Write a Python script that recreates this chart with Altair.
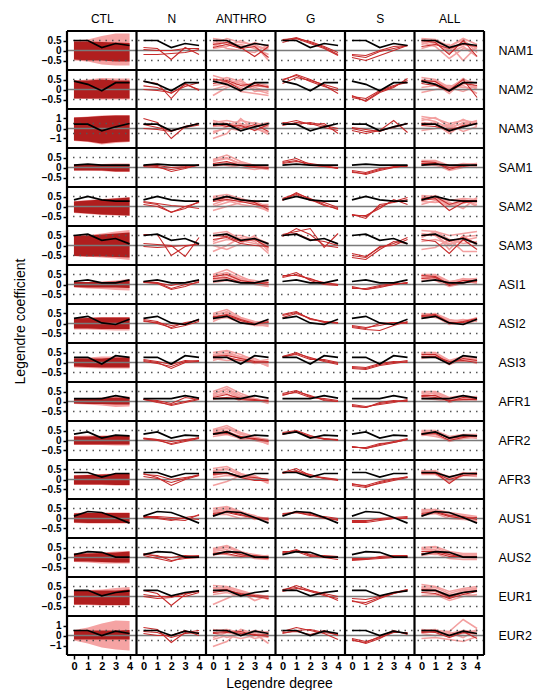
import json
import altair as alt
import pandas as pd

REGIONS = ["NAM1", "NAM2", "NAM3", "SAM1", "SAM2", "SAM3", "ASI1", "ASI2", "ASI3",
           "AFR1", "AFR2", "AFR3", "AUS1", "AUS2", "EUR1", "EUR2"]
EXPS = ["CTL", "N", "ANTHRO", "G", "S", "ALL"]
DEGREES = [0, 1, 2, 3, 4]
WIDE_ROWS = ["NAM3", "EUR2"]          # rows drawn with a +-2 axis instead of +-1

# observed Legendre coefficients (black line, repeated in every column)
OBS = {
    "NAM1": [0.5, 0.5, 0.15, 0.35, 0.25],
    "NAM2": [0.42, 0.26, -0.06, 0.34, 0.34],
    "NAM3": [0.43, 0.43, -0.23, 0.17, 0.5],
    "SAM1": [0.12, 0.17, 0.12, 0.12, 0.12],
    "SAM2": [0.33, 0.5, 0.33, 0.27, 0.27],
    "SAM3": [0.5, 0.57, 0.26, 0.35, 0.08],
    "ASI1": [0.15, 0.23, 0.08, 0.08, 0.23],
    "ASI2": [0.26, 0.36, 0.03, -0.05, 0.21],
    "ASI3": [0.26, 0.26, -0.08, 0.34, 0.26],
    "AFR1": [0.14, 0.14, 0.14, 0.29, 0.17],
    "AFR2": [0.32, 0.43, 0.12, 0.27, 0.23],
    "AFR3": [0.35, 0.35, 0.12, 0.3, 0.3],
    "AUS1": [0.12, 0.35, 0.3, 0.05, -0.23],
    "AUS2": [0.14, 0.29, 0.26, 0.02, 0.02],
    "EUR1": [0.31, 0.31, 0.03, 0.2, 0.28],
    "EUR2": [0.5, 0.5, 0.0, 0.43, 0.2],
}

# control run spread: inner (dark) and outer (light) bands
CTL_IN_HI = {
    "NAM1": [0.45, 0.45, 0.42, 0.4, 0.38], "NAM2": [0.45, 0.45, 0.5, 0.45, 0.45],
    "NAM3": [1.1, 1.15, 1.25, 1.3, 1.3], "SAM1": [0.15, 0.15, 0.15, 0.15, 0.15],
    "SAM2": [0.25, 0.3, 0.35, 0.4, 0.45], "SAM3": [0.5, 0.5, 0.55, 0.6, 0.65],
    "ASI1": [0.12, 0.12, 0.12, 0.15, 0.2], "ASI2": [0.25, 0.28, 0.3, 0.3, 0.3],
    "ASI3": [0.2, 0.2, 0.2, 0.25, 0.25], "AFR1": [0.12, 0.12, 0.15, 0.2, 0.18],
    "AFR2": [0.2, 0.2, 0.22, 0.22, 0.22], "AFR3": [0.2, 0.22, 0.25, 0.28, 0.28],
    "AUS1": [0.25, 0.28, 0.28, 0.28, 0.28], "AUS2": [0.2, 0.2, 0.22, 0.25, 0.3],
    "EUR1": [0.3, 0.3, 0.3, 0.3, 0.35], "EUR2": [0.5, 0.5, 0.5, 0.5, 0.55],
}
CTL_IN_LO = {
    "NAM1": [-0.45, -0.5, -0.5, -0.55, -0.55], "NAM2": [-0.45, -0.45, -0.45, -0.45, -0.45],
    "NAM3": [-1.2, -1.3, -1.5, -1.35, -1.3], "SAM1": [-0.15, -0.15, -0.15, -0.2, -0.2],
    "SAM2": [-0.3, -0.35, -0.4, -0.42, -0.45], "SAM3": [-0.53, -0.55, -0.55, -0.58, -0.6],
    "ASI1": [-0.12, -0.15, -0.15, -0.15, -0.18], "ASI2": [-0.25, -0.25, -0.27, -0.27, -0.27],
    "ASI3": [-0.2, -0.22, -0.25, -0.25, -0.25], "AFR1": [-0.1, -0.12, -0.12, -0.15, -0.15],
    "AFR2": [-0.2, -0.2, -0.2, -0.2, -0.2], "AFR3": [-0.25, -0.25, -0.25, -0.27, -0.27],
    "AUS1": [-0.2, -0.22, -0.22, -0.22, -0.22], "AUS2": [-0.2, -0.2, -0.22, -0.25, -0.25],
    "EUR1": [-0.4, -0.4, -0.42, -0.42, -0.42], "EUR2": [-0.4, -0.4, -0.4, -0.4, -0.4],
}
CTL_OUT_HI = {
    "NAM1": [0.5, 0.55, 0.72, 0.85, 0.85], "NAM2": [0.45, 0.5, 0.58, 0.55, 0.55],
    "NAM3": [1.1, 1.2, 1.3, 1.35, 1.35], "SAM1": [0.15, 0.15, 0.18, 0.2, 0.2],
    "SAM2": [0.28, 0.32, 0.38, 0.42, 0.48], "SAM3": [0.5, 0.52, 0.6, 0.7, 0.78],
    "ASI1": [0.12, 0.13, 0.15, 0.2, 0.28], "ASI2": [0.27, 0.3, 0.32, 0.33, 0.33],
    "ASI3": [0.22, 0.25, 0.3, 0.3, 0.3], "AFR1": [0.13, 0.15, 0.2, 0.25, 0.25],
    "AFR2": [0.22, 0.25, 0.25, 0.28, 0.28], "AFR3": [0.22, 0.24, 0.28, 0.3, 0.3],
    "AUS1": [0.27, 0.3, 0.3, 0.3, 0.3], "AUS2": [0.2, 0.22, 0.25, 0.3, 0.32],
    "EUR1": [0.3, 0.32, 0.35, 0.42, 0.47], "EUR2": [0.55, 0.8, 1.2, 1.5, 1.45],
}
CTL_OUT_LO = {
    "NAM1": [-0.5, -0.55, -0.7, -0.75, -0.75], "NAM2": [-0.45, -0.48, -0.5, -0.5, -0.5],
    "NAM3": [-1.25, -1.35, -1.6, -1.45, -1.35], "SAM1": [-0.15, -0.15, -0.18, -0.22, -0.22],
    "SAM2": [-0.32, -0.37, -0.42, -0.45, -0.48], "SAM3": [-0.53, -0.56, -0.6, -0.65, -0.72],
    "ASI1": [-0.15, -0.2, -0.22, -0.28, -0.3], "ASI2": [-0.3, -0.3, -0.33, -0.35, -0.35],
    "ASI3": [-0.25, -0.27, -0.3, -0.3, -0.3], "AFR1": [-0.13, -0.15, -0.2, -0.28, -0.25],
    "AFR2": [-0.22, -0.22, -0.23, -0.25, -0.25], "AFR3": [-0.27, -0.28, -0.28, -0.3, -0.3],
    "AUS1": [-0.22, -0.25, -0.25, -0.25, -0.25], "AUS2": [-0.22, -0.25, -0.3, -0.3, -0.3],
    "EUR1": [-0.42, -0.42, -0.45, -0.45, -0.45], "EUR2": [-0.5, -0.8, -1.2, -1.4, -1.5],
}

N_RUNS = {
    "NAM1": [[0.15, 0.1, -0.45, 0.15, -0.2], [-0.2, -0.2, -0.15, -0.1, 0.05], [0.05, 0.0, 0.0, 0.1, 0.1]],
    "NAM2": [[0.4, 0.3, -0.45, 0.3, -0.05], [0.18, 0.1, -0.2, 0.25, 0.0], [0.0, -0.05, -0.15, 0.15, 0.35]],
    "NAM3": [[1.0, 0.6, -1.0, 0.2, 0.5], [0.4, 0.1, -0.2, 0.1, 0.35], [0.0, -0.1, -0.3, 0.2, 0.5]],
    "SAM1": [[0.1, 0.05, -0.2, -0.05, 0.15], [0.05, 0.0, -0.1, 0.0, 0.1], [0.1, 0.1, 0.0, 0.05, 0.12]],
    "SAM2": [[0.2, 0.1, -0.3, 0.0, 0.2], [0.1, 0.0, -0.28, -0.1, 0.25], [0.25, 0.15, 0.05, 0.0, -0.1]],
    "SAM3": [[0.55, 0.55, -0.5, -0.05, 0.1], [0.1, 0.05, 0.0, -0.55, 0.4], [-0.05, -0.1, -0.05, 0.0, 0.05]],
    "ASI1": [[0.15, 0.1, -0.2, 0.0, 0.1], [0.1, 0.05, -0.25, -0.1, 0.15], [0.12, 0.08, -0.05, 0.1, 0.2]],
    "ASI2": [[0.2, 0.1, -0.25, -0.1, 0.1], [0.15, 0.0, -0.2, 0.05, 0.15], [0.1, 0.05, -0.1, 0.0, 0.2]],
    "ASI3": [[0.1, 0.0, -0.3, 0.0, 0.05], [0.05, -0.05, -0.2, 0.05, 0.1], [0.15, 0.05, -0.1, 0.1, 0.05]],
    "AFR1": [[0.1, 0.0, -0.2, -0.05, 0.1], [0.12, -0.05, -0.15, 0.0, 0.15], [0.1, 0.05, -0.1, 0.2, 0.1]],
    "AFR2": [[0.1, 0.05, -0.2, -0.05, 0.1], [0.08, 0.0, -0.15, 0.0, 0.15], [0.12, 0.05, -0.05, 0.05, 0.12]],
    "AFR3": [[0.3, 0.1, -0.3, 0.0, 0.2], [0.15, 0.05, -0.15, 0.05, 0.25], [0.25, 0.2, 0.0, 0.1, 0.2]],
    "AUS1": [[0.1, 0.0, -0.1, 0.05, 0.15], [0.05, 0.05, -0.05, -0.1, 0.2], [0.1, 0.1, 0.05, 0.0, -0.05]],
    "AUS2": [[0.15, 0.1, -0.15, -0.05, 0.0], [0.1, -0.05, -0.2, 0.05, 0.1], [0.2, 0.05, 0.0, 0.1, 0.05]],
    "EUR1": [[0.3, 0.15, -0.45, 0.1, 0.3], [0.0, -0.1, -0.05, 0.15, 0.25], [0.1, 0.0, 0.0, 0.0, 0.2]],
    "EUR2": [[0.8, 0.6, -0.7, 0.3, 0.5], [0.2, 0.0, 0.0, 0.5, 0.0], [0.4, 0.3, -0.2, 0.2, 0.3]],
}

G_RUNS = {
    "NAM1": [[0.5, 0.65, 0.4, 0.15, -0.2], [0.4, 0.6, 0.45, 0.2, -0.1], [0.55, 0.6, 0.35, 0.1, -0.25]],
    "NAM2": [[0.45, 0.75, 0.5, 0.2, -0.2], [0.5, 0.7, 0.4, 0.15, -0.05], [0.3, 0.6, 0.45, 0.25, 0.05]],
    "NAM3": [[0.5, 0.8, 0.4, 0.5, -0.5], [0.3, 0.6, 0.5, 0.1, -0.2], [0.6, 0.4, 0.6, 0.3, 0.0]],
    "SAM1": [[0.3, 0.45, 0.15, 0.05, -0.05], [0.25, 0.35, 0.1, 0.05, 0.0], [0.2, 0.3, 0.2, 0.1, -0.05]],
    "SAM2": [[0.3, 0.7, 0.35, 0.05, -0.1], [0.4, 0.65, 0.4, 0.1, -0.15], [0.35, 0.6, 0.3, 0.2, -0.05]],
    "SAM3": [[0.45, 0.85, 0.55, 0.0, -0.1], [0.55, 0.7, 0.85, -0.1, 0.6], [0.5, 0.6, 0.3, 0.2, 0.0]],
    "ASI1": [[0.4, 0.6, 0.2, 0.0, -0.05], [0.35, 0.5, 0.25, 0.1, 0.0], [0.45, 0.45, 0.3, 0.05, 0.0]],
    "ASI2": [[0.4, 0.55, 0.25, 0.05, 0.05], [0.45, 0.6, 0.2, 0.1, 0.0], [0.3, 0.5, 0.25, 0.1, 0.05]],
    "ASI3": [[0.3, 0.5, 0.2, 0.1, -0.05], [0.25, 0.45, 0.25, 0.05, -0.1], [0.3, 0.4, 0.15, 0.15, 0.0]],
    "AFR1": [[0.4, 0.55, 0.25, 0.1, 0.0], [0.35, 0.45, 0.2, 0.15, 0.05], [0.3, 0.5, 0.3, 0.05, 0.0]],
    "AFR2": [[0.35, 0.45, 0.2, 0.1, 0.0], [0.4, 0.5, 0.25, 0.05, 0.05], [0.3, 0.45, 0.15, 0.1, 0.05]],
    "AFR3": [[0.35, 0.55, 0.2, 0.05, -0.05], [0.3, 0.45, 0.15, 0.1, 0.0], [0.35, 0.4, 0.25, 0.05, 0.0]],
    "AUS1": [[0.2, 0.35, 0.25, 0.05, -0.1], [0.25, 0.3, 0.2, 0.0, -0.05], [0.15, 0.3, 0.15, 0.1, 0.0]],
    "AUS2": [[0.2, 0.4, 0.1, 0.0, -0.1], [0.25, 0.35, 0.15, 0.05, 0.0], [0.3, 0.3, 0.05, 0.1, 0.05]],
    "EUR1": [[0.3, 0.55, 0.3, 0.1, -0.2], [0.35, 0.45, 0.25, 0.05, -0.1], [0.25, 0.4, 0.3, 0.15, 0.0]],
    "EUR2": [[0.4, 0.8, 0.5, 0.2, -0.4], [0.2, 0.5, 0.6, 0.3, 0.1], [0.3, 0.4, 0.1, 0.5, 0.0]],
}

S_RUNS = {
    "NAM1": [[-0.25, -0.35, -0.05, 0.1, 0.25], [-0.35, -0.5, -0.25, 0.0, 0.25], [-0.2, -0.25, 0.0, 0.2, 0.25]],
    "NAM2": [[-0.3, -0.6, -0.15, 0.1, 0.55], [-0.4, -0.55, -0.1, 0.15, 0.45], [-0.35, -0.45, -0.05, 0.2, 0.35]],
    "NAM3": [[0.0, -0.3, -0.2, 0.8, -0.4], [0.1, -0.1, -0.3, 0.2, 0.5], [-0.2, -0.5, -0.2, 0.1, 0.5]],
    "SAM1": [[-0.2, -0.35, -0.15, 0.0, 0.1], [-0.25, -0.3, -0.1, 0.05, 0.05], [-0.15, -0.25, -0.05, 0.0, 0.1]],
    "SAM2": [[-0.4, -0.5, 0.0, 0.25, 0.45], [-0.45, -0.45, -0.1, 0.35, 0.1], [-0.4, -0.6, 0.1, 0.2, 0.35]],
    "SAM3": [[-0.4, -0.55, -0.1, 0.1, 0.4], [-0.6, -0.7, -0.2, 0.2, 0.1], [-0.5, -0.6, -0.05, 0.0, 0.3]],
    "ASI1": [[-0.15, -0.25, -0.1, 0.0, 0.1], [-0.2, -0.2, -0.05, 0.05, 0.05], [-0.1, -0.25, -0.15, 0.0, 0.1]],
    "ASI2": [[-0.15, -0.25, 0.0, 0.05, 0.05], [-0.2, -0.3, -0.35, -0.1, 0.1], [-0.1, -0.2, -0.1, 0.05, 0.0]],
    "ASI3": [[-0.25, -0.3, -0.1, 0.0, 0.1], [-0.3, -0.35, -0.15, -0.05, 0.05], [-0.2, -0.25, -0.05, 0.05, 0.0]],
    "AFR1": [[-0.2, -0.3, -0.1, 0.0, 0.05], [-0.15, -0.25, -0.15, -0.05, 0.1], [-0.25, -0.3, -0.05, 0.05, 0.0]],
    "AFR2": [[-0.3, -0.4, -0.2, -0.05, 0.1], [-0.35, -0.35, -0.15, -0.1, 0.05], [-0.3, -0.4, -0.25, -0.1, 0.05]],
    "AFR3": [[-0.3, -0.4, -0.15, 0.0, 0.15], [-0.2, -0.35, -0.2, -0.05, 0.1], [-0.25, -0.3, -0.1, 0.05, 0.1]],
    "AUS1": [[-0.2, -0.2, -0.1, 0.0, 0.05], [-0.15, -0.15, 0.0, 0.05, 0.1], [-0.1, -0.1, -0.05, 0.0, 0.0]],
    "AUS2": [[-0.05, -0.05, 0.0, 0.05, 0.0], [-0.1, -0.1, -0.05, 0.0, 0.05], [-0.15, -0.1, 0.05, 0.1, 0.1]],
    "EUR1": [[-0.2, -0.4, -0.1, 0.15, 0.35], [-0.25, -0.3, -0.05, 0.15, 0.3], [-0.1, -0.15, 0.0, 0.2, 0.35]],
    "EUR2": [[-0.4, -0.8, -0.3, 0.4, 0.2], [-0.3, -0.6, -0.2, 0.3, 0.3], [-0.5, -0.7, -0.1, 0.5, 0.1]],
}

ANTHRO_RED = {
    "NAM1": [[0.3, 0.4, 0.15, -0.3, 0.2], [0.15, 0.3, 0.1, 0.2, -0.35]],
    "NAM2": [[0.5, 0.45, 0.2, 0.3, 0.1], [0.3, 0.4, 0.0, 0.2, 0.15]],
    "NAM3": [[0.3, 0.5, 0.0, 0.4, -0.3], [0.5, 0.2, 0.3, -0.2, 0.4]],
    "SAM1": [[0.2, 0.3, 0.1, 0.05, 0.0], [0.1, 0.15, 0.1, 0.0, -0.05]],
    "SAM2": [[0.3, 0.45, 0.35, 0.2, -0.15], [0.25, 0.35, 0.25, 0.1, 0.0]],
    "SAM3": [[0.5, 0.45, 0.2, 0.3, -0.1], [0.3, 0.4, 0.1, 0.0, -0.05]],
    "ASI1": [[0.4, 0.5, 0.2, 0.1, 0.0], [0.3, 0.35, 0.1, 0.05, 0.1]],
    "ASI2": [[0.3, 0.45, 0.2, 0.0, 0.05], [0.35, 0.4, 0.15, -0.05, 0.1]],
    "ASI3": [[0.3, 0.35, 0.2, 0.05, 0.0], [0.25, 0.25, 0.1, 0.0, 0.05]],
    "AFR1": [[0.2, 0.35, 0.15, 0.1, 0.0], [0.15, 0.2, 0.1, 0.05, 0.05]],
    "AFR2": [[0.35, 0.45, 0.15, 0.1, 0.0], [0.3, 0.35, 0.2, 0.05, -0.05]],
    "AFR3": [[0.3, 0.35, 0.15, 0.1, 0.0], [0.25, 0.3, 0.1, -0.05, -0.05]],
    "AUS1": [[0.25, 0.35, 0.2, 0.0, -0.05], [0.2, 0.3, 0.15, 0.05, 0.0]],
    "AUS2": [[0.2, 0.3, 0.15, 0.0, -0.05], [0.15, 0.2, 0.05, 0.1, 0.0]],
    "EUR1": [[0.3, 0.35, 0.1, 0.0, -0.1], [0.2, 0.3, 0.15, 0.05, 0.0]],
    "EUR2": [[0.3, 0.4, 0.2, 0.1, -0.1], [0.2, 0.3, 0.4, 0.0, 0.1]],
}
ANTHRO_PINK = {
    "NAM1": [[0.6, 0.5, 0.2, 0.3, 0.0], [0.3, 0.6, 0.4, 0.3, -0.5], [0.1, 0.2, 0.5, 0.2, 0.1],
             [0.4, 0.1, 0.0, -0.1, 0.3], [0.5, 0.3, 0.3, 0.1, -0.2], [0.2, 0.45, 0.1, 0.4, 0.2]],
    "NAM2": [[0.7, 0.5, 0.3, 0.2, 0.1], [0.4, 0.6, 0.4, 0.1, -0.1], [-0.3, 0.1, 0.3, 0.0, -0.2],
             [0.2, 0.3, -0.1, -0.2, -0.3], [0.55, 0.35, 0.1, 0.35, 0.2], [0.0, 0.2, 0.5, -0.1, 0.0]],
    "NAM3": [[-1.0, -0.5, 1.0, -0.2, 0.3], [0.6, 0.8, 0.5, 0.0, -0.4], [0.2, 0.3, 0.8, 0.5, 0.0],
             [-0.3, 0.0, -0.2, 0.3, 0.6], [0.8, 0.5, 0.2, 0.6, 0.2], [-0.5, 0.2, 0.4, 0.1, -0.6]],
    "SAM1": [[0.4, 0.62, 0.3, 0.1, 0.0], [0.3, 0.45, 0.2, 0.05, -0.1], [0.05, 0.2, 0.25, 0.1, -0.05],
             [0.2, 0.1, 0.0, -0.1, 0.0], [0.35, 0.5, 0.15, 0.0, -0.1], [0.15, 0.25, 0.15, 0.05, 0.05]],
    "SAM2": [[0.5, 0.6, 0.4, 0.2, 0.0], [-0.2, 0.0, 0.2, 0.3, -0.1], [0.4, 0.3, 0.1, 0.0, -0.2],
             [0.0, 0.2, 0.4, 0.1, 0.1], [0.45, 0.5, 0.3, 0.15, -0.25], [0.1, 0.35, 0.25, 0.2, -0.05]],
    "SAM3": [[0.6, 0.7, 0.3, 0.4, 0.1], [-0.3, 0.0, 0.4, 0.2, -0.4], [0.2, 0.5, 0.5, 0.3, 0.0],
             [0.0, -0.2, 0.1, 0.5, -0.3], [0.45, 0.6, 0.2, 0.35, -0.2], [0.1, 0.3, 0.25, 0.1, 0.05]],
    "ASI1": [[0.5, 0.75, 0.4, 0.1, -0.1], [0.2, 0.3, 0.15, 0.0, -0.1], [0.45, 0.6, 0.3, 0.2, 0.05],
             [0.1, 0.2, 0.1, 0.05, 0.15], [0.35, 0.55, 0.25, 0.1, -0.05], [0.25, 0.45, 0.2, 0.1, 0.0]],
    "ASI2": [[0.5, 0.7, 0.3, 0.1, 0.0], [0.2, 0.3, 0.05, -0.1, -0.1], [0.45, 0.55, 0.25, 0.05, 0.15],
             [0.1, 0.4, 0.1, 0.0, -0.15], [0.4, 0.6, 0.2, 0.05, 0.05], [0.3, 0.5, 0.2, 0.0, -0.05]],
    "ASI3": [[0.5, 0.6, 0.4, 0.1, -0.2], [0.1, 0.3, 0.0, 0.05, 0.15], [0.35, 0.45, 0.3, 0.2, -0.1],
             [0.2, 0.1, 0.15, -0.05, 0.0], [0.4, 0.55, 0.25, 0.05, -0.15], [0.3, 0.4, 0.2, 0.1, 0.0]],
    "AFR1": [[0.5, 0.75, 0.4, 0.15, 0.0], [0.35, 0.6, 0.2, 0.1, -0.1], [0.1, 0.2, 0.25, 0.15, -0.05],
             [0.3, 0.4, 0.0, 0.05, 0.1], [0.4, 0.65, 0.3, 0.1, -0.05], [0.25, 0.5, 0.15, 0.1, 0.0]],
    "AFR2": [[0.55, 0.75, 0.4, 0.2, -0.1], [0.2, 0.3, 0.1, 0.1, -0.2], [0.45, 0.6, 0.3, 0.15, 0.05],
             [0.4, 0.5, 0.05, 0.0, -0.15], [0.5, 0.65, 0.35, 0.1, -0.05], [0.3, 0.45, 0.2, 0.05, -0.1]],
    "AFR3": [[0.55, 0.65, 0.3, 0.1, -0.2], [-0.3, -0.1, 0.2, 0.1, 0.0], [0.4, 0.5, 0.25, 0.05, -0.1],
             [0.1, 0.2, 0.15, 0.2, -0.15], [0.45, 0.55, 0.2, 0.15, -0.1], [0.2, 0.35, 0.1, 0.0, -0.05]],
    "AUS1": [[0.5, 0.6, 0.35, 0.1, -0.1], [0.1, 0.4, 0.25, -0.05, 0.05], [0.35, 0.5, 0.3, 0.15, -0.15],
             [0.2, 0.2, 0.0, 0.1, 0.0], [0.4, 0.55, 0.3, 0.05, -0.1], [0.3, 0.45, 0.2, 0.1, -0.05]],
    "AUS2": [[0.45, 0.6, 0.3, 0.1, 0.0], [0.1, 0.3, 0.2, -0.05, -0.1], [0.35, 0.5, 0.25, 0.15, 0.05],
             [0.25, 0.15, 0.0, 0.05, 0.1], [0.4, 0.55, 0.25, 0.05, -0.05], [0.3, 0.4, 0.1, 0.1, 0.0]],
    "EUR1": [[0.55, 0.5, 0.3, 0.1, -0.1], [-0.4, -0.1, 0.2, 0.0, -0.05], [0.4, 0.45, 0.2, -0.2, 0.05],
             [0.1, 0.2, 0.0, 0.1, -0.15], [0.45, 0.4, 0.25, 0.05, -0.05], [0.25, 0.35, 0.1, 0.1, 0.0]],
    "EUR2": [[-1.1, -0.6, 0.6, 0.2, -0.8], [0.5, 0.6, 0.3, -0.3, 0.0], [0.3, -0.2, 0.1, 0.5, 0.3],
             [-0.4, 0.0, -0.3, 0.0, 0.4], [0.6, 0.4, 0.5, 0.1, -0.2], [-0.2, 0.3, 0.0, 0.3, 0.0]],
}

ALL_RED = {
    "NAM1": [[0.5, 0.4, -0.2, 0.5, -0.3], [0.2, 0.3, 0.1, 0.3, 0.2]],
    "NAM2": [[0.45, 0.4, -0.05, 0.5, -0.4], [0.3, 0.2, -0.1, 0.3, 0.2]],
    "NAM3": [[0.5, 0.4, -0.3, 0.3, 0.5], [0.3, 0.2, -0.1, 0.2, 0.5]],
    "SAM1": [[0.3, 0.25, -0.1, 0.1, 0.1], [0.2, 0.2, 0.0, 0.05, 0.15]],
    "SAM2": [[0.4, 0.5, 0.1, 0.3, 0.3], [0.3, 0.4, -0.2, 0.2, 0.25]],
    "SAM3": [[0.5, 0.55, 0.2, 0.4, 0.1], [0.3, 0.2, -0.4, 0.3, -0.2]],
    "ASI1": [[0.45, 0.4, 0.0, 0.2, 0.2], [0.3, 0.35, -0.05, 0.1, 0.15]],
    "ASI2": [[0.4, 0.45, 0.05, 0.05, 0.2], [0.35, 0.4, 0.0, 0.1, 0.25]],
    "ASI3": [[0.4, 0.4, -0.05, 0.2, 0.1], [0.3, 0.3, 0.05, 0.1, 0.0]],
    "AFR1": [[0.3, 0.3, 0.0, 0.2, 0.15], [0.25, 0.2, 0.05, 0.1, 0.1]],
    "AFR2": [[0.35, 0.4, 0.1, 0.2, 0.2], [0.3, 0.35, 0.0, 0.15, 0.25]],
    "AFR3": [[0.35, 0.35, -0.2, 0.3, 0.3], [0.3, 0.3, 0.0, 0.2, 0.25]],
    "AUS1": [[0.25, 0.35, 0.15, 0.1, -0.05], [0.2, 0.3, 0.1, 0.0, 0.05]],
    "AUS2": [[0.3, 0.3, 0.15, 0.0, 0.0], [0.2, 0.25, 0.05, 0.05, 0.05]],
    "EUR1": [[0.35, 0.3, -0.05, 0.2, 0.3], [0.2, 0.15, -0.1, 0.1, 0.25]],
    "EUR2": [[0.4, 0.3, -0.2, 0.3, 0.2], [0.3, 0.4, 0.0, 0.4, -0.3]],
}
ALL_PINK = {
    "NAM1": [[0.6, 0.55, 0.2, 0.6, 0.3], [0.4, 0.2, -0.4, 0.1, 0.0], [0.1, 0.3, 0.3, -0.5, 0.2],
             [0.3, 0.5, -0.1, 0.2, -0.3], [0.55, 0.45, 0.0, 0.45, 0.1], [0.45, 0.35, 0.2, 0.55, -0.1]],
    "NAM2": [[0.6, 0.5, 0.1, 0.5, 0.3], [0.1, 0.2, 0.2, 0.1, 0.1], [0.4, 0.3, -0.2, 0.4, 0.0],
             [-0.15, 0.0, 0.1, -0.1, 0.2], [0.5, 0.4, 0.0, 0.55, 0.1], [0.35, 0.45, 0.05, 0.2, -0.2]],
    "NAM3": [[1.2, 1.0, 0.5, 0.8, 0.6], [0.8, 1.1, 0.2, 0.9, 0.3], [-0.2, 0.0, 0.4, -0.3, 0.2],
             [0.6, 0.5, -0.5, 0.4, 0.8], [1.0, 0.7, 0.0, 0.6, 0.5], [0.3, 0.6, 0.1, 0.5, 0.7]],
    "SAM1": [[0.35, 0.35, 0.1, 0.15, 0.2], [0.1, 0.15, -0.15, 0.0, 0.05], [0.25, 0.3, 0.05, 0.1, 0.0],
             [0.15, 0.1, 0.0, 0.15, 0.1], [0.3, 0.25, 0.05, 0.2, 0.15], [0.2, 0.3, -0.05, 0.05, 0.2]],
    "SAM2": [[0.55, 0.5, 0.3, 0.4, 0.35], [0.1, 0.3, 0.0, 0.25, 0.1], [0.45, 0.35, 0.2, -0.1, 0.45],
             [0.25, 0.2, 0.3, 0.35, 0.0], [0.5, 0.45, 0.05, 0.35, 0.2], [0.35, 0.55, 0.15, 0.15, 0.4]],
    "SAM3": [[0.75, 0.7, 0.5, 0.6, 0.7], [0.2, 0.3, 0.1, 0.25, 0.4], [-0.2, -0.1, 0.3, -0.3, -0.3],
             [0.5, 0.6, -0.2, 0.5, 0.0], [0.6, 0.5, 0.0, 0.45, 0.5], [0.4, 0.7, 0.3, 0.1, 0.2]],
    "ASI1": [[0.5, 0.5, 0.15, 0.25, 0.3], [0.2, 0.3, 0.05, 0.15, 0.1], [0.4, 0.2, -0.1, 0.05, 0.25],
             [0.35, 0.45, 0.1, 0.2, 0.05], [0.45, 0.4, 0.1, 0.3, 0.2], [0.3, 0.45, 0.0, 0.1, 0.3]],
    "ASI2": [[0.45, 0.5, 0.2, 0.1, 0.15], [0.25, 0.35, -0.05, 0.05, 0.3], [0.4, 0.3, 0.1, 0.2, 0.1],
             [0.3, 0.45, 0.05, 0.0, 0.2], [0.5, 0.45, 0.1, 0.15, 0.25], [0.35, 0.4, 0.15, -0.05, 0.15]],
    "ASI3": [[0.5, 0.5, 0.1, 0.3, 0.2], [0.2, 0.3, -0.1, 0.15, -0.05], [0.35, 0.25, 0.05, 0.05, 0.15],
             [0.45, 0.35, 0.0, 0.2, 0.05], [0.45, 0.45, 0.05, 0.25, 0.15], [0.25, 0.4, 0.1, 0.1, 0.1]],
    "AFR1": [[0.5, 0.5, 0.2, 0.3, 0.2], [0.2, 0.35, -0.05, 0.15, 0.05], [0.4, 0.25, 0.1, 0.25, 0.2],
             [0.15, 0.1, 0.0, 0.05, 0.1], [0.45, 0.4, 0.1, 0.2, 0.25], [0.3, 0.45, 0.15, 0.1, 0.15]],
    "AFR2": [[0.5, 0.5, 0.2, 0.3, 0.3], [0.25, 0.3, -0.05, 0.1, 0.15], [0.4, 0.45, 0.15, 0.25, 0.1],
             [0.3, 0.2, 0.05, 0.2, 0.2], [0.45, 0.45, 0.1, 0.25, 0.25], [0.35, 0.4, 0.2, 0.15, 0.3]],
    "AFR3": [[0.45, 0.4, 0.1, 0.3, 0.35], [0.25, 0.25, -0.1, 0.2, 0.15], [0.4, 0.3, 0.05, 0.35, 0.2],
             [0.3, 0.35, 0.15, 0.25, 0.3], [0.4, 0.45, 0.0, 0.3, 0.25], [0.35, 0.3, 0.1, 0.25, 0.35]],
    "AUS1": [[0.45, 0.45, 0.3, 0.2, 0.1], [0.15, 0.25, 0.0, -0.05, -0.1], [0.35, 0.35, 0.2, 0.1, 0.05],
             [0.1, 0.4, 0.1, 0.05, -0.1], [0.4, 0.4, 0.25, 0.15, 0.0], [0.3, 0.45, 0.15, 0.05, -0.15]],
    "AUS2": [[0.5, 0.55, 0.3, 0.2, 0.2], [0.1, 0.2, -0.05, -0.1, -0.1], [0.4, 0.4, 0.1, 0.1, 0.15],
             [0.2, 0.15, 0.2, 0.0, -0.05], [0.45, 0.5, 0.2, 0.15, 0.1], [0.3, 0.35, 0.25, 0.05, 0.05]],
    "EUR1": [[0.6, 0.5, 0.25, 0.4, 0.5], [0.05, 0.1, -0.2, 0.0, 0.1], [0.45, 0.35, 0.0, 0.3, 0.35],
             [0.2, 0.3, 0.1, 0.15, 0.0], [0.5, 0.45, 0.15, 0.35, 0.4], [0.4, 0.25, -0.1, 0.2, 0.45]],
    "EUR2": [[0.6, 0.5, 0.4, 1.6, 0.7], [-0.3, -0.2, -0.4, -0.6, -0.1], [0.5, 0.6, 0.1, 0.2, 0.5],
             [0.2, 0.0, 0.3, -0.2, 0.6], [0.5, 0.4, 0.2, 0.5, 0.4], [0.3, 0.5, -0.2, 0.3, 0.1]],
}

# ---------------------------------------------------------------- layout / style
DARK_BAND = "#B01E1E"
LIGHT_BAND = "#F5A3A3"
RED_LINE = "#C62A2A"
PINK_LINE = "#F3A0A0"
FONT = "Liberation Sans"
ROW_SPAN = 1.95        # one panel is 1.95 units tall (+-0.975 around its centre)
COL_SPAN = 5           # one panel is 5 degree units wide (-0.5 .. 4.5)
GRID_W, GRID_H = 417, 624

records = []


def yscale(region):
    return 0.5 if region in WIDE_ROWS else 1.0


def centre(ri):
    return -ROW_SPAN * ri


def add_line(ri, ci, kind, key, vals):
    r = REGIONS[ri]
    for d, v in zip(DEGREES, vals):
        records.append(dict(kind=kind, key=key, xp=COL_SPAN * ci + d,
                            yp=centre(ri) + yscale(r) * v, yp2=None))


for ri, r in enumerate(REGIONS):
    s = yscale(r)
    for d, lo, hi in zip(DEGREES, CTL_OUT_LO[r], CTL_OUT_HI[r]):
        records.append(dict(kind="out", key=r, xp=d, yp=centre(ri) + s * lo, yp2=centre(ri) + s * hi))
    for d, lo, hi in zip(DEGREES, CTL_IN_LO[r], CTL_IN_HI[r]):
        records.append(dict(kind="in", key=r, xp=d, yp=centre(ri) + s * lo, yp2=centre(ri) + s * hi))
    for exp, runs in (("N", N_RUNS), ("G", G_RUNS), ("S", S_RUNS)):
        ci = EXPS.index(exp)
        for i, vals in enumerate(runs[r]):
            add_line(ri, ci, "red", f"{r}-{exp}-{i}", vals)
    for i, vals in enumerate(ANTHRO_RED[r]):
        add_line(ri, 2, "red", f"{r}-AR-{i}", vals)
    for i, vals in enumerate(ANTHRO_PINK[r]):
        add_line(ri, 2, "pink", f"{r}-AP-{i}", vals)
    for i, vals in enumerate(ALL_RED[r]):
        add_line(ri, 5, "red", f"{r}-LR-{i}", vals)
    for i, vals in enumerate(ALL_PINK[r]):
        add_line(ri, 5, "pink", f"{r}-LP-{i}", vals)
    for ci in range(len(EXPS)):
        add_line(ri, ci, "obs", f"{r}-obs-{ci}", OBS[r])
    # reference lines at +-0.5 (dotted) and 0 (solid)
    for ref in (0.5, -0.5):
        records.append(dict(kind="dot", key=r, xp=0, yp=centre(ri) + s * ref, yp2=None))
    records.append(dict(kind="zero", key=r, xp=0, yp=centre(ri), yp2=None))

# panel frame lines
for ci in range(len(EXPS) + 1):
    records.append(dict(kind="vframe", key=str(ci), xp=COL_SPAN * ci - 0.5, yp=0, yp2=None))
for ri in range(len(REGIONS) + 1):
    records.append(dict(kind="hframe", key=str(ri), xp=0, yp=centre(ri) + ROW_SPAN / 2, yp2=None))

df = pd.DataFrame(records)

XDOM = [-0.5, COL_SPAN * len(EXPS) - 0.5]
YDOM = [centre(len(REGIONS) - 1) - ROW_SPAN / 2, ROW_SPAN / 2]
xs = alt.Scale(domain=XDOM, nice=False, zero=False)
ys = alt.Scale(domain=YDOM, nice=False, zero=False)

# axis tick positions and label expressions
wide_idx = [REGIONS.index(r) for r in WIDE_ROWS]
left_vals = []
for ri in range(len(REGIONS)):
    left_vals += [round(centre(ri) + 0.5, 4), round(centre(ri), 4), round(centre(ri) - 0.5, 4)]
ridx = f"round(-datum.value/{ROW_SPAN})"
tval = f"(datum.value + {ridx}*{ROW_SPAN})"
left_expr = (f"abs({tval}) < 0.01 ? '0' : format((indexof({json.dumps(wide_idx)}, {ridx}) >= 0 ? 2 : 1)"
             f" * {tval}, '.2~f')")
bottom_vals = [COL_SPAN * ci + d for ci in range(len(EXPS)) for d in DEGREES]
bottom_expr = f"'' + (datum.value % {COL_SPAN})"
top_vals = [COL_SPAN * ci + 2 for ci in range(len(EXPS))]
top_expr = f"{json.dumps(EXPS)}[round((datum.value - 2)/{COL_SPAN})]"
right_vals = [round(centre(ri), 4) for ri in range(len(REGIONS))]
right_expr = f"{json.dumps(REGIONS)}[{ridx}]"

bottom_axis = alt.Axis(values=bottom_vals, labelExpr=bottom_expr, orient="bottom",
                       grid=False, domain=False, tickSize=4, tickColor="black", tickWidth=1.5,
                       labelFont=FONT, labelFontWeight="bold", labelFontSize=11, labelColor="black",
                       labelPadding=1, labelFlush=False, labelOverlap=False,
                       title="Legendre degree", titleFont=FONT, titleFontSize=14,
                       titleFontWeight="normal", titleColor="black",
                       titleX=212, titleY=28, titleAlign="center", titleBaseline="middle")
left_axis = alt.Axis(values=left_vals, labelExpr=left_expr, orient="left",
                     grid=False, domain=False, tickSize=4, tickColor="black", tickWidth=1.5,
                     labelFont=FONT, labelFontWeight="bold", labelFontSize=10, labelColor="black",
                     labelPadding=2, labelOverlap=False, labelFlush=False, labelBound=False,
                     title="Legendre coefficient", titleFont=FONT, titleFontSize=14,
                     titleFontWeight="normal", titleColor="black", titleAngle=-90,
                     titleX=-47, titleY=290, titleAlign="center", titleBaseline="middle")
top_axis = alt.Axis(values=top_vals, labelExpr=top_expr, orient="top", title=None,
                    grid=False, domain=False, ticks=False, tickSize=0,
                    labelFont=FONT, labelFontSize=12, labelColor="black",
                    labelPadding=9, labelBaseline="alphabetic", labelOverlap=False, labelFlush=False)
right_axis = alt.Axis(values=right_vals, labelExpr=right_expr, orient="right", title=None,
                      grid=False, domain=False, ticks=False, tickSize=0,
                      labelFont=FONT, labelFontSize=12.5, labelColor="black",
                      labelPadding=14, labelAlign="left", labelBaseline="middle",
                      labelOverlap=False, labelFlush=False, labelBound=False)

base = alt.Chart(df)
XN = alt.X("xp:Q", scale=xs, axis=None)
YN = alt.Y("yp:Q", scale=ys, axis=None)

out_band = base.mark_area(color=LIGHT_BAND).encode(
    x=alt.X("xp:Q", scale=xs, axis=bottom_axis),
    y=alt.Y("yp:Q", scale=ys, axis=left_axis),
    y2="yp2:Q", detail="key:N").transform_filter("datum.kind == 'out'")
in_band = base.mark_area(color=DARK_BAND).encode(
    x=XN, y=YN, y2="yp2:Q", detail="key:N").transform_filter("datum.kind == 'in'")
pink = base.mark_line(color=PINK_LINE, strokeWidth=1.6).encode(
    x=XN, y=YN, detail="key:N").transform_filter("datum.kind == 'pink'")
dots = base.mark_rule(color="#555555", strokeWidth=1.5, strokeDash=[1.5, 5]).encode(
    y=YN).transform_filter("datum.kind == 'dot'")
zero = base.mark_rule(color="#7a7a7a", strokeWidth=1.5).encode(
    y=YN).transform_filter("datum.kind == 'zero'")
red = base.mark_line(color=RED_LINE, strokeWidth=1.1).encode(
    x=XN, y=YN, detail="key:N").transform_filter("datum.kind == 'red'")
obs = base.mark_line(color="black", strokeWidth=1.7).encode(
    x=XN, y=YN, detail="key:N").transform_filter("datum.kind == 'obs'")
vframe = base.mark_rule(color="black", strokeWidth=2.2).encode(
    x=alt.X("xp:Q", scale=xs, axis=top_axis)).transform_filter("datum.kind == 'vframe'")
hframe = base.mark_rule(color="black", strokeWidth=2.2).encode(
    y=alt.Y("yp:Q", scale=ys, axis=right_axis)).transform_filter("datum.kind == 'hframe'")

chart = alt.layer(out_band, in_band, pink, dots, zero, red, obs, vframe, hframe).resolve_axis(
    x="independent", y="independent"
).properties(
    width=GRID_W, height=GRID_H,
    autosize=alt.AutoSizeParams(type="none"),
    padding={"left": 67, "top": 31, "right": 55, "bottom": 35},
    background="white",
).configure_view(stroke=None)

chart.save("out.html", embed_options={"renderer": "svg", "actions": False})
